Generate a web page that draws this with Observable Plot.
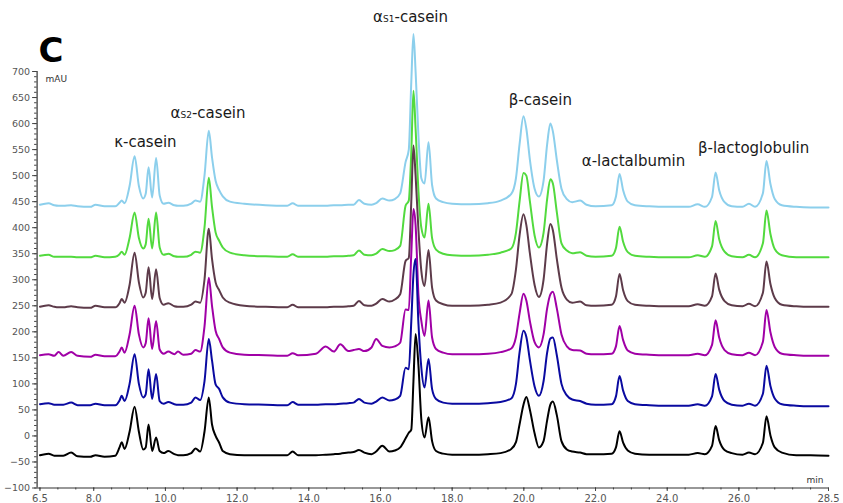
<!DOCTYPE html>
<html><head><meta charset="utf-8">
<script src="https://cdn.jsdelivr.net/npm/d3@7"></script>
<script src="https://cdn.jsdelivr.net/npm/@observablehq/plot@0.6"></script>
<style>html,body{margin:0;padding:0;background:#fff}#chart svg{display:block}</style>
</head><body><div id="chart"></div>
<script>
// retention time grid (min)
const time = [
  6.5, 6.74, 6.9, 7.02, 7.15, 7.37, 7.55, 7.9, 8.05, 8.3,
  8.6, 8.72, 8.78, 8.86, 9.0, 9.14, 9.26, 9.38, 9.45, 9.53, 9.63, 9.74, 9.84, 9.95, 10.08, 10.25, 10.35, 10.5, 10.72, 10.84, 10.97, 11.09, 11.21, 11.3, 11.4, 11.5, 11.6, 11.8, 12.2,
  12.8, 13.4, 13.55, 13.7, 14.2, 14.47, 14.7, 14.88, 15.1, 15.25, 15.4, 15.55, 15.75, 15.88, 16.05, 16.25, 16.4, 16.55,
  16.7, 16.79, 16.86, 16.92, 16.98, 17.06, 17.14, 17.23, 17.34, 17.44, 17.55, 17.75, 18.0,
  18.5, 19.0, 19.35, 19.65, 19.78, 19.88, 19.99, 20.07, 20.17, 20.3, 20.42, 20.55, 20.65, 20.74, 20.81, 20.92, 21.05, 21.2, 21.35, 21.57, 21.75, 22.0,
  22.45, 22.57, 22.67, 22.77, 22.9, 23.1, 23.5, 24.0, 24.6, 24.85, 25.05, 25.25, 25.35, 25.45, 25.6, 25.8, 26.1, 26.28, 26.45, 26.67, 26.77, 26.88, 27.0, 27.2, 27.6, 28.0, 28.5
];
// absorbance (mAU) of each trace, top to bottom
const traceLightBlue = [
  444, 447, 443, 442, 442, 443, 441, 440, 444, 441,
  441, 448, 452, 447, 480, 537, 480, 456, 465, 516, 458, 534, 462, 446, 448, 443, 442, 442, 446, 452, 450, 500, 586, 535, 490, 472, 460, 450, 446,
  443, 442, 447, 442, 442, 442, 443, 443, 444, 444, 453, 446, 444, 447, 456, 452, 455, 466,
  526, 550, 680, 772, 700, 575, 495, 485, 564, 482, 456, 449, 446,
  445, 447, 452, 465, 495, 560, 614, 590, 530, 475, 460, 490, 560, 600, 585, 530, 475, 455, 449, 452, 444, 441,
  443, 460, 503, 472, 450, 443, 441, 440, 440, 445, 440, 459, 506, 472, 449, 441, 440, 446, 440, 466, 528, 484, 455, 443, 440, 439, 439
];
const traceGreen = [
  346, 348, 344, 344, 344, 344, 343, 343, 346, 343,
  344, 349, 354, 348, 380, 429, 380, 360, 368, 417, 360, 429, 362, 348, 350, 345, 344, 344, 348, 354, 352, 400, 496, 440, 391, 375, 362, 352, 347,
  345, 344, 349, 344, 344, 344, 345, 345, 346, 347, 356, 348, 347, 350, 359, 355, 357, 365,
  442, 452, 545, 663, 590, 470, 400, 381, 446, 380, 358, 350, 347,
  346, 348, 352, 360, 390, 450, 505, 500, 450, 385, 362, 390, 455, 493, 485, 430, 370, 356, 351, 353, 346, 344,
  346, 361, 402, 373, 353, 346, 344, 343, 343, 347, 344, 364, 413, 378, 354, 345, 343, 348, 343, 370, 433, 388, 359, 347, 343, 343, 343
];
const traceBrown = [
  248, 251, 248, 247, 247, 249, 247, 246, 250, 247,
  247, 255, 263, 256, 290, 352, 295, 266, 275, 324, 263, 320, 265, 252, 255, 249, 248, 248, 252, 258, 256, 300, 398, 340, 295, 280, 266, 256, 250,
  248, 247, 252, 247, 247, 247, 248, 248, 249, 250, 259, 251, 250, 254, 263, 258, 262, 272,
  336, 342, 450, 558, 500, 395, 317, 288, 357, 285, 260, 253, 250,
  250, 252, 256, 272, 320, 385, 426, 405, 350, 290, 267, 300, 370, 407, 395, 340, 285, 262, 256, 258, 251, 250,
  252, 268, 311, 280, 259, 252, 250, 249, 249, 253, 250, 268, 312, 281, 259, 251, 249, 254, 249, 275, 335, 292, 265, 252, 249, 248, 248
];
const tracePurple = [
  155, 157, 154, 161, 154, 161, 154, 152, 156, 153,
  153, 162, 170, 160, 195, 250, 195, 170, 178, 226, 167, 221, 166, 158, 162, 157, 162, 156, 158, 165, 162, 210, 304, 250, 202, 186, 170, 160, 156,
  155, 154, 159, 155, 158, 172, 162, 176, 163, 165, 167, 163, 170, 186, 173, 170, 172, 179,
  243, 242, 350, 436, 405, 270, 221, 192, 260, 189, 167, 160, 157,
  157, 158, 161, 168, 190, 235, 273, 260, 220, 180, 170, 195, 245, 272, 277, 245, 195, 172, 165, 164, 158, 157,
  158, 172, 211, 184, 164, 158, 156, 155, 155, 158, 155, 175, 222, 189, 165, 157, 155, 160, 155, 181, 242, 199, 171, 158, 155, 154, 154
];
const traceBlue = [
  61, 63, 60, 60, 60, 64, 59, 59, 62, 59,
  59, 68, 77, 67, 100, 157, 100, 74, 80, 128, 71, 119, 67, 62, 65, 61, 60, 60, 64, 74, 69, 105, 186, 145, 99, 90, 74, 64, 61,
  60, 59, 65, 60, 60, 61, 61, 62, 63, 64, 71, 64, 62, 66, 74, 68, 70, 77,
  131, 128, 220, 310, 340, 215, 131, 93, 148, 90, 71, 64, 62,
  62, 63, 65, 72, 100, 160, 202, 190, 145, 95, 77, 105, 160, 187, 189, 155, 100, 78, 70, 67, 62, 60,
  61, 76, 115, 87, 67, 61, 59, 58, 58, 61, 58, 76, 119, 89, 67, 60, 58, 62, 58, 81, 135, 96, 72, 61, 58, 57, 57
];
const traceBlack = [
  -37, -34, -38, -38, -38, -32, -39, -40, -37, -40,
  -38, -22, -12, -25, 8, 56, 8, -26, -22, 22, -29, -3, -29, -33, -29, -35, -37, -37, -33, -24, -30, 8, 74, 22, 0, -13, -29, -35, -37,
  -37, -37, -30, -37, -37, -36, -35, -34, -32, -31, -27, -32, -35, -30, -19, -30, -28, -22,
  -5, 6, 12, 105, 196, 135, 32, -3, 36, -10, -29, -34, -36,
  -36, -35, -33, -25, -12, 22, 60, 75, 50, 5, -22, -10, 30, 60, 66, 40, -10, -26, -30, -32, -35, -35,
  -34, -22, 9, -13, -28, -34, -36, -36, -36, -33, -35, -19, 19, -8, -27, -33, -36, -32, -35, -13, 38, 1, -22, -32, -37, -37, -38
];
const traceNames = ["light blue", "green", "brown", "purple", "blue", "black"];
const traceColors = ["#8ccfec", "#52da3e", "#5d3b4a", "#a000a6", "#0a0aa0", "#000000"];

// peak labels
const peakLabels = ["κ-casein", "αS2-casein", "αS1-casein", "β-casein", "α-lactalbumin", "β-lactoglobulin"];
const peakLabelX = [9.44, 11.19, 16.84, 20.46, 23.06, 26.41];
const peakLabelY = [555, 611, 796, 635, 519, 544];

// ticks
const xTickLabels = [6.5, 8, 10, 12, 14, 16, 18, 20, 22, 24, 26, 28.5];
const yTickLabels = [-100, -50, 0, 50, 100, 150, 200, 250, 300, 350, 400, 450, 500, 550, 600, 650, 700];
const xMinorTicks = d3.range(6.5, 28.51, 0.5);
const yMinorTicks = d3.range(-100, 701, 10);

const traces = [traceLightBlue, traceGreen, traceBrown, tracePurple, traceBlue, traceBlack];
const rows = [];
traces.forEach((vals, i) => {
  if (vals.length !== time.length) console.error("length mismatch", traceNames[i], vals.length, time.length);
  const n = Math.min(vals.length, time.length);
  for (let j = 0; j < n; j++) rows.push({t: time[j], v: vals[j], trace: traceNames[i]});
});
const labels = peakLabels.map((s, i) => ({s, x: peakLabelX[i], y: peakLabelY[i]}));

const font = "DejaVu Sans";
const chart = Plot.plot({
  width: 843,
  height: 503,
  marginLeft: 36.6,
  marginRight: 15,
  marginTop: 71,
  marginBottom: 15.5,
  x: {domain: [6.42, 28.5], axis: null},
  y: {domain: [-100, 700], axis: null},
  color: {domain: traceNames, range: traceColors},
  style: {fontFamily: font, background: "#fff", overflow: "visible"},
  marks: [
    Plot.axisY({ticks: yMinorTicks, tickSize: 2.5, tickFormat: () => "", stroke: "#444"}),
    Plot.axisY({ticks: yTickLabels, tickSize: 4.5, tickPadding: 2.5, fontSize: 9.5, fill: "#555", stroke: "#444"}),
    Plot.axisX({ticks: xMinorTicks, tickSize: 2, tickFormat: () => "", stroke: "#444"}),
    Plot.axisX({ticks: xTickLabels, tickSize: 3.5, tickPadding: 3.5, fontSize: 10, fill: "#555", stroke: "#444", tickFormat: d => d.toFixed(1)}),
    Plot.ruleX([6.42], {stroke: "#333", strokeWidth: 1.2}),
    Plot.ruleY([-100], {stroke: "#333", strokeWidth: 1.2}),
    Plot.lineY(rows, {x: "t", y: "v", z: "trace", stroke: "trace", strokeWidth: 2, curve: "monotone-x"}),
    Plot.text(labels, {x: "x", y: "y", text: "s", fontSize: 15, fill: "#1a1a1a", lineAnchor: "bottom", textAnchor: "middle"}),
    Plot.text(["C"], {frameAnchor: "top-left", dx: 1.5, dy: -10, text: d => d, fontSize: 34, fontWeight: "bold", fill: "#000", lineAnchor: "bottom", textAnchor: "start"}),
    Plot.text(["mAU"], {frameAnchor: "top-left", dx: 8.5, dy: 10, text: d => d, fontSize: 9, fill: "#333", lineAnchor: "bottom", textAnchor: "start"}),
    Plot.text(["min"], {frameAnchor: "bottom-right", dx: -5, dy: -5.5, text: d => d, fontSize: 9, fill: "#333", lineAnchor: "bottom", textAnchor: "end"})
  ]
});

// small-caps subscripts for αS1 / αS2
d3.select(chart).selectAll("text").each(function() {
  const s = this.textContent;
  const m = /^α(S\d)(-casein)$/.exec(s);
  if (!m || this.children.length) return;
  const el = d3.select(this);
  el.text(null);
  el.append("tspan").text("α");
  el.append("tspan").attr("font-size", 9).text(m[1]);
  el.append("tspan").text(m[2]);
});

document.getElementById("chart").append(chart);
</script>
</body></html>
